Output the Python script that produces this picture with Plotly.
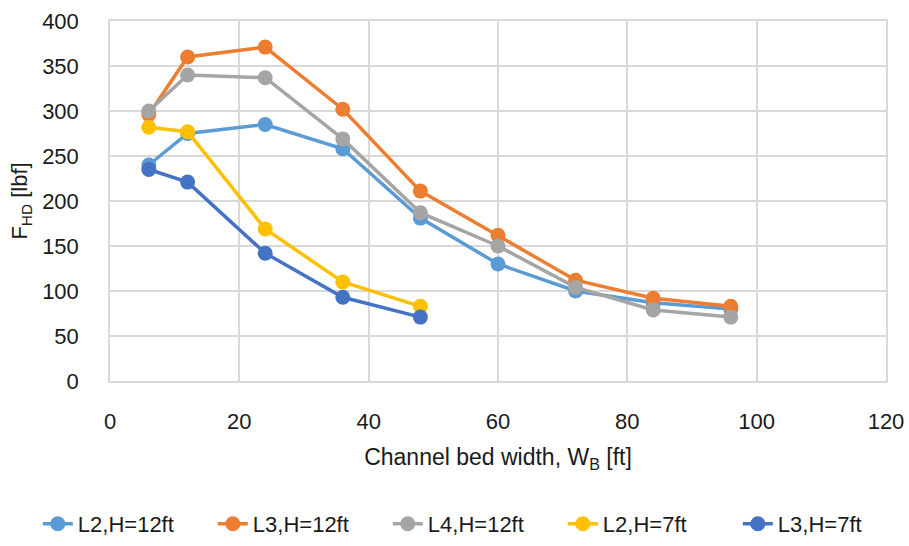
import plotly.graph_objects as go

# Channel bed width values (ft)
widths_12ft = [6, 12, 24, 36, 48, 60, 72, 84, 96]
widths_7ft = [6, 12, 24, 36, 48]

# Hydrodynamic force F_HD (lbf) for each load case
l2_h12 = [240, 275, 285, 258, 181, 130, 100, 87, 80]
l3_h12 = [296, 360, 371, 302, 211, 162, 112, 92, 83]
l4_h12 = [300, 340, 337, 269, 187, 150, 104, 79, 71]
l2_h7 = [282, 277, 169, 110, 83]
l3_h7 = [235, 221, 142, 93, 71]

series = [
    ("L2,H=12ft", widths_12ft, l2_h12, "#5B9BD5"),
    ("L3,H=12ft", widths_12ft, l3_h12, "#ED7D31"),
    ("L4,H=12ft", widths_12ft, l4_h12, "#A5A5A5"),
    ("L2,H=7ft", widths_7ft, l2_h7, "#FFC000"),
    ("L3,H=7ft", widths_7ft, l3_h7, "#4472C4"),
]

FONT = "Liberation Sans"
TEXT = "#1a1a1a"

fig = go.Figure()
for name, xs, ys, color in series:
    fig.add_trace(go.Scatter(
        x=xs, y=ys, name=name, mode="lines+markers",
        line=dict(color=color, width=3.5),
        marker=dict(color=color, size=15),
    ))

fig.update_layout(
    width=909, height=546,
    margin=dict(l=110, r=23, t=21, b=165, autoexpand=False),
    paper_bgcolor="white", plot_bgcolor="white",
    font=dict(family=FONT, size=22, color=TEXT),
    showlegend=True,
    legend=dict(
        orientation="h", x=-0.093, xanchor="left", y=-0.397, yanchor="middle",
        font=dict(family=FONT, size=22, color=TEXT),
        entrywidth=130, entrywidthmode="pixels", tracegroupgap=0,
    ),
    xaxis=dict(
        range=[0, 120], dtick=20, tick0=0,
        showgrid=True, gridcolor="#D9D9D9", gridwidth=1.5,
        showline=True, linecolor="#D9D9D9", linewidth=1.5, mirror=True,
        zeroline=False, ticks="", ticklabelstandoff=20,
        tickfont=dict(family=FONT, size=22, color=TEXT),
        title=dict(text="Channel bed width, W<sub>B</sub> [ft]", standoff=16,
                   font=dict(family=FONT, size=23, color=TEXT)),
    ),
    yaxis=dict(
        range=[0, 400], dtick=50, tick0=0,
        showgrid=True, gridcolor="#D9D9D9", gridwidth=1.5,
        showline=True, linecolor="#D9D9D9", linewidth=1.5, mirror=True,
        zeroline=False, ticks="", ticklabelstandoff=25,
        tickfont=dict(family=FONT, size=22, color=TEXT),
        title=dict(text="F<sub>HD</sub> [lbf]", standoff=8,
                   font=dict(family=FONT, size=22, color=TEXT)),
    ),
)

fig.write_html("out.html")
